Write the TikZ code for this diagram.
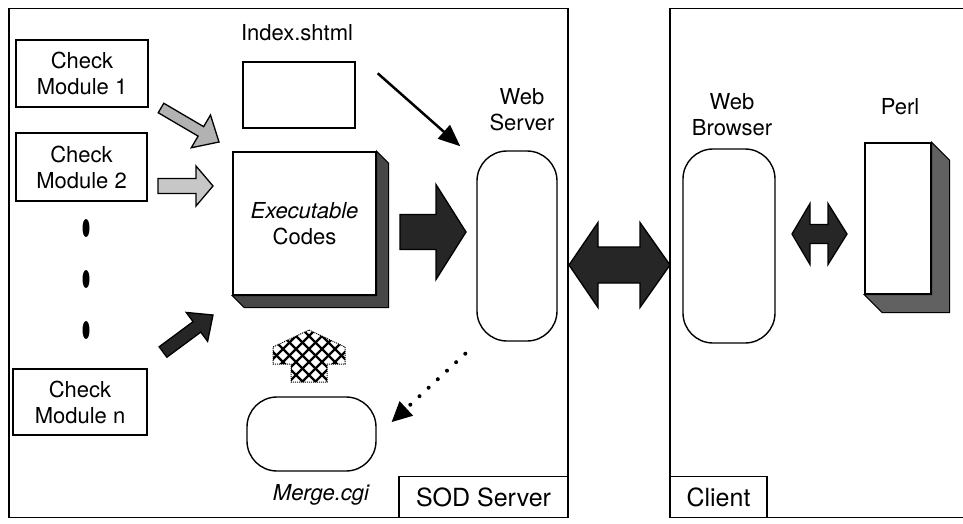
\documentclass[tikz,border=0pt]{standalone}
\usepackage{fontspec}
\setmainfont{TeX Gyre Heros}
\usetikzlibrary{calc,arrows.meta,shapes.geometric}
\newcommand\lab{\fontsize{22}{26}\selectfont}
\newcommand\biglab{\fontsize{25}{29}\selectfont}
% fat single arrow: style, from, to, shaft half width, head half width, head length
\newcommand\FatArr[6]{%
  \coordinate (fab) at ($(#3)!#6!(#2)$);
  \draw[#1] ($(#2)!#4!90:(#3)$) -- ($(fab)!#4!90:(#3)$) -- ($(fab)!#5!90:(#3)$) -- (#3)
    -- ($(fab)!#5!-90:(#3)$) -- ($(fab)!#4!-90:(#3)$) -- ($(#2)!#4!-90:(#3)$) -- cycle;}
% fat double arrow: style, A, B, shaft half width, head half width, head length at A, at B
\newcommand\DblArr[7]{%
  \coordinate (dda) at ($(#2)!#6!(#3)$);
  \coordinate (ddb) at ($(#3)!#7!(#2)$);
  \draw[#1] (#2) -- ($(dda)!#5!90:(#3)$) -- ($(dda)!#4!90:(#3)$) -- ($(ddb)!#4!-90:(#2)$)
    -- ($(ddb)!#5!-90:(#2)$) -- (#3) -- ($(ddb)!#5!90:(#2)$) -- ($(ddb)!#4!90:(#2)$)
    -- ($(dda)!#4!-90:(#3)$) -- ($(dda)!#5!-90:(#3)$) -- cycle;}
\begin{document}
\begin{tikzpicture}[x=1pt,y=-1pt,
  frame/.style={draw, line width=1.4pt, inner sep=0pt},
  box/.style={draw, line width=1.4pt, fill=white, inner sep=0pt, align=center, font=\lab},
  oval/.style={draw, line width=1.4pt, fill=white, rounded corners=30pt, inner sep=0pt},
  lbl/.style={align=center, font=\lab, inner sep=0pt},
  shadowc/.style={fill=black!72, draw=black, line width=1pt},
  lightarr/.style={fill=black!30, draw=black, line width=1.3pt, line join=miter},
  darkarr/.style={fill=black!85, draw=black, line width=1.3pt, line join=miter},
  hatch/.style={line width=2.4pt},
  dotnode/.style={ellipse, fill=black, minimum width=7pt, minimum height=18pt, inner sep=0pt}]
\useasboundingbox (0,0) rectangle (963,524);
\clip (0,0) rectangle (963,524);
\fill[white] (0,0) rectangle (963,524);

% frames
\node[frame, minimum width=559pt, minimum height=509pt] (sod) at (288.5,263) {};
\node[frame, minimum width=330pt, minimum height=509pt] (cli) at (835,263) {};
\node[box, font=\biglab, minimum width=169pt, minimum height=41pt, anchor=south east] (sodl) at (sod.south east) {SOD Server};
\node[box, font=\biglab, minimum width=97pt, minimum height=41pt, anchor=south west] (clil) at (cli.south west) {Client};

% check modules
\node[box, minimum width=132pt, minimum height=67pt] (cm1) at (82,73.5) {Check\\Module 1};
\node[box, minimum width=131pt, minimum height=68pt] (cm2) at (81.5,167) {Check\\Module 2};
\node[box, minimum width=134pt, minimum height=66pt] (cmn) at (80,402) {Check\\Module n};
\node[dotnode] (d1) at (86,228) {};
\node[dotnode] (d2) at (86,279) {};
\node[dotnode] (d3) at (86,330) {};

% index.shtml
\node[lbl] (idxl) at (297,33) {Index.shtml};
\node[box, minimum width=112pt, minimum height=66pt] (idx) at (299,95) {};

% executable codes with shadow
\node[box, minimum width=143pt, minimum height=143pt, font=\lab\itshape] (exec) at (304.5,223.5) {Executable\\\upshape Codes};
\draw[shadowc] (exec.north east) -- ($(exec.north east)+(12,12)$) -- ($(exec.south east)+(12,12)$)
  -- ($(exec.south west)+(12,12)$) -- (exec.south west) -- (exec.south east) -- cycle;

% merge.cgi
\node[oval, minimum width=129pt, minimum height=74pt] (merge) at (311.5,434) {};
\node[lbl, font=\lab\itshape] (mergel) at (321,495) {Merge.cgi};

% web server / browser
\node[oval, minimum width=80pt, minimum height=190pt] (ws) at (517,246) {};
\node[lbl] (wsl) at (522,109.5) {Web\\Server};
\node[oval, minimum width=92pt, minimum height=194pt] (wb) at (729,246) {};
\node[lbl] (wbl) at (732,114.5) {Web\\Browser};

% perl with shadow
\node[box, minimum width=66pt, minimum height=151pt] (perl) at (898,218.5) {};
\draw[shadowc, fill=black!62] (perl.north east) -- ($(perl.north east)+(18,18)$) -- ($(perl.south east)+(18,18)$)
  -- ($(perl.south west)+(18,18)$) -- (perl.south west) -- (perl.south east) -- cycle;
\node[lbl] (perll) at (900,107) {Perl};

% fat arrows
\coordinate (a1s) at (161,108); \coordinate (a1e) at (219,142);
\coordinate (a2s) at (158,186); \coordinate (a2e) at (213,186);
\coordinate (ans) at (163,352); \coordinate (ane) at (213,315);
\coordinate (bs) at (400,232);  \coordinate (be) at (466,232);
\coordinate (ca) at (569,265);  \coordinate (cb) at (670,265);
\coordinate (pa) at (792,234);  \coordinate (pb) at (847,234);
\FatArr{lightarr}{a1s}{a1e}{5.5pt}{19pt}{21pt}
\FatArr{lightarr, fill=black!22}{a2s}{a2e}{7.5pt}{20pt}{17pt}
\FatArr{darkarr}{ans}{ane}{6.5pt}{18pt}{20pt}
\FatArr{darkarr}{bs}{be}{17.5pt}{47.5pt}{30pt}
\DblArr{darkarr}{ca}{cb}{18pt}{42.5pt}{29pt}{30pt}
\DblArr{darkarr}{pa}{pb}{9.5pt}{30.5pt}{18pt}{19pt}

% hatched up arrow (merge -> exec)
\begin{scope}
  \clip (309,330) -- (345,347) -- (345,364) -- (327,364) -- (327,382) -- (291,382) -- (291,364) -- (273,364) -- (273,347) -- cycle;
  \foreach \k in {-9,...,7} {
    \draw[hatch] (309+13*\k,323) -- ++(70,70);
    \draw[hatch] (309-13*\k,323) -- ++(-70,70);
  }
\end{scope}
\draw[densely dotted, line width=1pt]
  (309,330) -- (345,347) -- (345,364) -- (327,364) -- (327,382) -- (291,382) -- (291,364) -- (273,364) -- (273,347) -- cycle;

% index -> web server
\coordinate (ix) at ($(idx.north east)+(22,12)$);
\coordinate (wsi) at ($(ws.north west)+(-16,-4)$);
\draw[line width=2.5pt, -{Triangle[length=22pt,width=18pt]}] (ix) -- (wsi);

% web server -> merge.cgi (dotted)
\coordinate (ds) at ($(ws.south west)+(-11,12)$);
\coordinate (de) at ($(merge.east)+(15,-12)$);
\coordinate (dh) at ($(de)!20pt!(ds)$);
\draw[line width=4pt, line cap=round, dash pattern=on 0pt off 12.5pt] (ds) -- (dh);
\fill (de) -- ($(dh)!10pt!90:(de)$) -- ($(dh)!10pt!-90:(de)$) -- cycle;
\end{tikzpicture}
\end{document}
